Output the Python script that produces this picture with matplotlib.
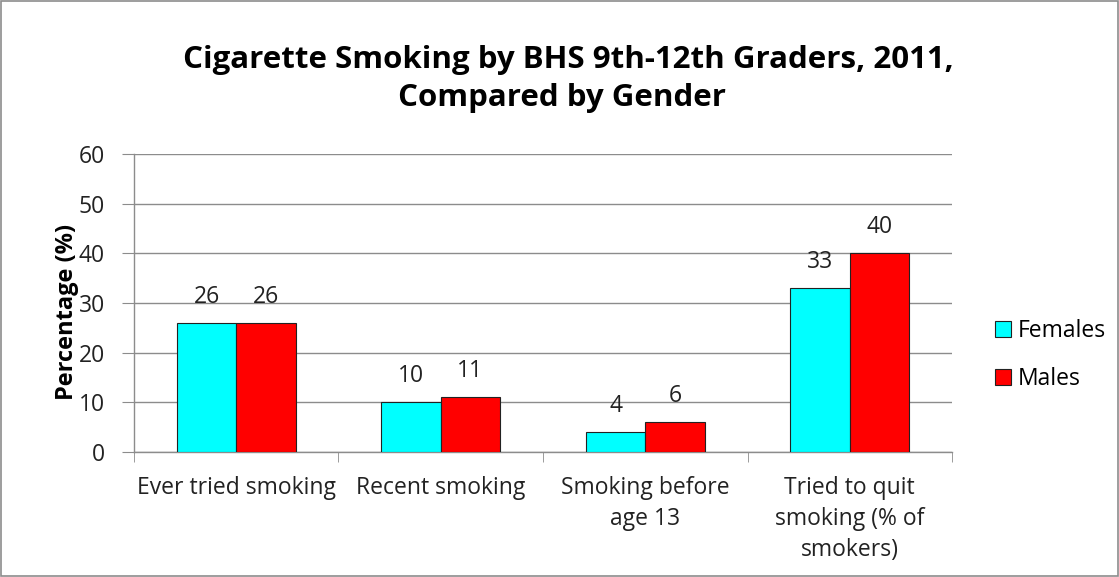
import matplotlib.pyplot as plt
import numpy as np
from matplotlib.patches import Rectangle

categories = ["Ever tried smoking", "Recent smoking", "Smoking before\nage 13",
              "Tried to quit\nsmoking (% of\nsmokers)"]
females = [26, 10, 4, 33]
males = [26, 11, 6, 40]

plt.rcParams["font.family"] = ["Open Sans", "DejaVu Sans"]
fs = 16.5

fig = plt.figure(figsize=(11.19, 5.77), dpi=100)
ax = fig.add_axes([0.1197, 0.2166, 0.7311, 0.5164])

x = np.arange(len(categories))
w = 0.29
b1 = ax.bar(x - w / 2, females, w, color="#00ffff", edgecolor="#222222", linewidth=0.8, label="Females", zorder=3)
b2 = ax.bar(x + w / 2, males, w, color="#ff0000", edgecolor="#222222", linewidth=0.8, label="Males", zorder=3)

# value labels above the bars
for bars, vals in [(b1, females), (b2, males)]:
    for r, v in zip(bars, vals):
        ax.annotate(str(v), (r.get_x() + r.get_width() / 2, v), xytext=(0, 19),
                    textcoords="offset points", ha="center", va="center",
                    fontsize=fs, color="#222222")

ax.set_xlim(-0.5, len(categories) - 0.5)
ax.set_ylim(0, 60)
ax.set_yticks(range(0, 61, 10))
ax.yaxis.grid(True, color="#8c8c8c", linewidth=1, zorder=0)
ax.set_axisbelow(True)

ax.set_xticks(x)
ax.set_xticklabels(categories, fontsize=fs, color="#222222", linespacing=1.4)
ax.tick_params(axis="x", length=0, pad=17)
ax.set_xticks(np.arange(-0.5, len(categories), 1), minor=True)
ax.tick_params(axis="x", which="minor", length=7, color="#8c8c8c", direction="out")
ax.tick_params(axis="y", length=9, color="#8c8c8c", labelsize=fs, labelcolor="#222222", pad=12)

for s in ["top", "right"]:
    ax.spines[s].set_visible(False)
for s in ["left", "bottom"]:
    ax.spines[s].set_color("#8c8c8c")
    ax.spines[s].set_linewidth(1)

ax.set_ylabel("Percentage (%)", fontsize=17, fontweight="bold", labelpad=0)
ax.yaxis.label.set_position((0, 0.47))

fig.text(0.508, 1 - 60 / 577, "Cigarette Smoking by BHS 9th-12th Graders, 2011,",
         ha="center", va="center", fontsize=22.5, fontweight="bold")
fig.text(0.502, 1 - 98 / 577, "Compared by Gender",
         ha="center", va="center", fontsize=22.5, fontweight="bold")

fig.legend(handles=[b1, b2], loc="center left", bbox_to_anchor=(995 / 1119, 1 - 355 / 577),
           frameon=False, fontsize=fs, handlelength=0.7, handleheight=0.7,
           labelspacing=1.05, handletextpad=0.3, borderpad=0, borderaxespad=0)

# grey frame around the whole chart
fig.patches.append(Rectangle((0.001, 0.001), 0.998, 0.998, transform=fig.transFigure,
                             fill=False, edgecolor="#8c8c8c", linewidth=1.2))

fig.savefig("out.png", dpi=100)
